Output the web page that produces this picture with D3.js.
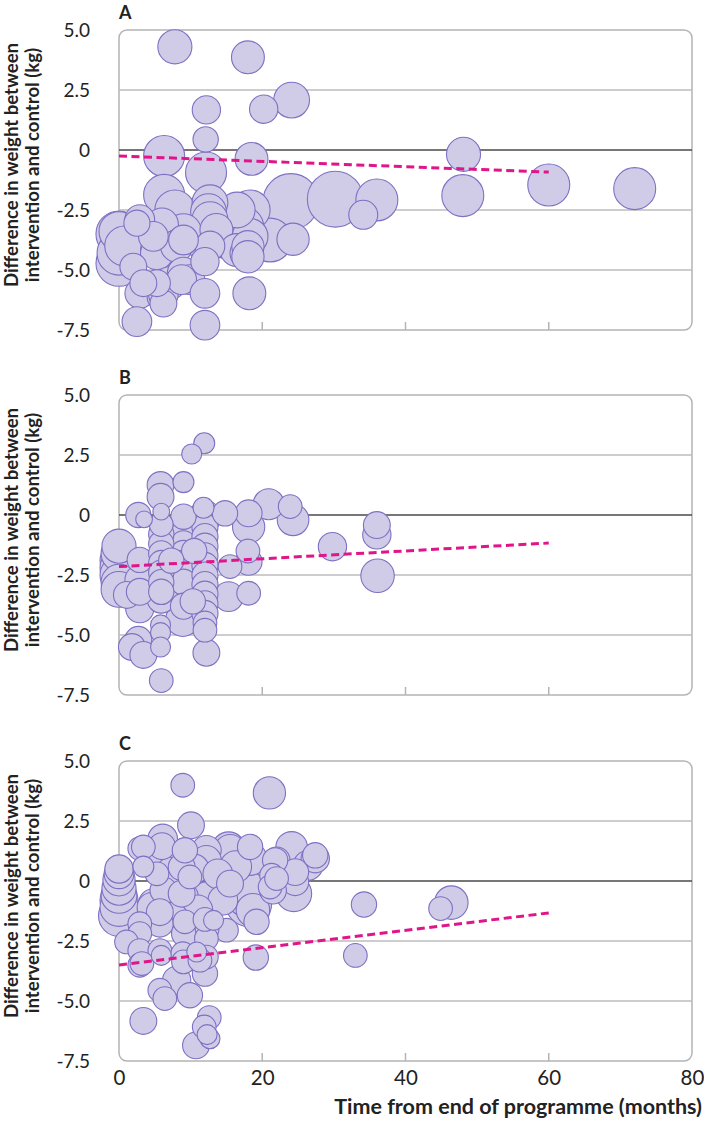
<!DOCTYPE html>
<html>
<head>
<meta charset="utf-8">
<script src="https://cdn.jsdelivr.net/npm/d3@7"></script>
<style>
  html, body { margin: 0; padding: 0; background: #fff; }
  svg { display: block; }
</style>
</head>
<body>
<svg id="chart" width="704" height="1121"></svg>
<script>
// ---- Data: [months after programme end, difference in weight (kg), study weight] ----
const panelLetters = ["A", "B", "C"];

const panelA = [
  [7.8, 4.3, 29], [18.0, 3.86, 27], [24.1, 2.08, 32], [20.2, 1.7, 20], [12.2, 1.67, 20],
  [12.1, 0.44, 16], [6.3, -0.25, 42], [18.5, -0.37, 27], [12.15, -0.94, 42], [6.3, -1.87, 42],
  [48.1, -0.18, 29], [48.0, -1.9, 44], [60.0, -1.46, 44], [72.0, -1.61, 44], [36.0, -2.08, 44],
  [34.1, -2.7, 21], [24.0, -2.15, 78], [30.2, -2.05, 78], [24.3, -3.72, 26], [18.3, -2.5, 40],
  [21.1, -3.75, 48], [17.4, -3.2, 40], [18.3, -3.6, 32], [18.0, -4.03, 26], [18.0, -4.45, 26],
  [18.2, -5.97, 27], [15.7, -3.47, 71], [16.5, -2.5, 32], [12.7, -2.2, 32], [12.5, -2.57, 32],
  [12.7, -2.9, 32], [11.3, -2.78, 40], [7.8, -2.5, 40], [8.5, -3.47, 46], [0, -3.4, 40],
  [0, -3.5, 53], [0.8, -4.0, 40], [0, -4.3, 48], [0, -4.72, 53], [2.9, -2.9, 22],
  [2.5, -3.05, 17], [6.0, -3.1, 27], [9.0, -3.4, 32], [8.05, -4.0, 26], [5.5, -4.2, 32],
  [4.8, -3.6, 22], [5.3, -4.3, 27], [12.0, -4.17, 22], [12.0, -4.65, 20], [12.7, -4.0, 22],
  [13.6, -3.33, 27], [16.4, -4.17, 27], [17.8, -3.68, 40], [17.8, -4.3, 27], [2.9, -5.97, 22],
  [6.0, -6.1, 22], [6.2, -6.4, 18], [6.2, -6.0, 22], [9.0, -5.14, 26], [9.9, -5.4, 22],
  [8.75, -5.4, 22], [12.0, -5.97, 22], [2.5, -7.15, 22], [12.0, -7.3, 22], [7.1, -5.55, 27],
  [5.3, -5.55, 18], [2.0, -4.86, 18], [3.4, -5.55, 18], [9.0, -3.75, 22]
];

const panelB = [
  [11.9, 2.99, 11], [10.15, 2.54, 10], [9.0, 1.37, 11], [5.8, 1.25, 18], [5.8, 0.76, 18],
  [5.9, 0.14, 7], [2.7, 0.0, 16], [3.5, -0.18, 7], [9.0, -0.07, 16], [12.0, -0.07, 26],
  [14.8, 0.07, 16], [11.8, 0.3, 11], [18.1, -0.5, 26], [18.1, 0.07, 18], [20.9, 0.45, 24],
  [24.3, -0.2, 25], [23.9, 0.35, 14], [29.8, -1.32, 20], [36.0, -0.42, 18], [36.0, -0.83, 20],
  [36.1, -2.53, 28],
  [0, -1.3, 29], [0, -1.6, 32], [0, -1.9, 36], [0, -2.2, 36], [0, -2.5, 36], [0, -2.8, 32],
  [0, -3.1, 32], [0.5, -2.0, 40],
  [2.9, -1.87, 16], [2.9, -2.7, 22], [1.1, -3.33, 18], [2.9, -3.9, 20], [2.9, -3.2, 18],
  [5.9, -0.4, 14], [5.9, -0.8, 16], [5.9, -1.2, 16], [5.9, -1.6, 16], [5.9, -2.0, 16],
  [5.9, -2.4, 16], [5.9, -2.8, 16], [5.9, -3.2, 16], [5.9, -3.5, 20],
  [9, -0.3, 17], [9, -0.8, 17], [9, -1.2, 17], [9, -1.6, 17], [9, -2.0, 17], [9, -2.4, 17],
  [9, -2.8, 17], [9, -3.3, 20], [9, -3.8, 17], [8.9, -4.35, 29],
  [12, -0.5, 17], [12, -0.9, 17], [12, -1.3, 17], [12, -1.7, 17], [12, -2.1, 17], [12, -2.5, 17],
  [12, -2.9, 17], [12, -3.3, 17], [12, -3.7, 17], [12, -4.1, 17], [12, -4.5, 14], [12, -4.8, 14],
  [12.2, -5.74, 18],
  [5.8, -4.58, 10], [5.8, -4.9, 10], [5.8, -5.5, 10],
  [2.7, -5.2, 18], [1.8, -5.5, 18], [3.4, -5.83, 18], [2.4, -5.35, 19], [5.9, -6.9, 14],
  [15.3, -3.4, 22], [18.1, -3.26, 14], [15.5, -2.15, 14], [18.1, -1.95, 18], [18.0, -1.5, 14],
  [10.3, -2.6, 18], [10.5, -1.5, 16], [10.3, -3.6, 16], [7.3, -3.0, 18], [7.3, -1.9, 16]
];

const panelC = [
  [8.9, 3.99, 14], [21.0, 3.67, 26], [10.05, 2.32, 18], [2.9, 1.35, 14], [6.1, 1.75, 22],
  [5.8, 1.14, 22], [6.0, 1.45, 18], [9.0, 1.0, 25], [9.2, 1.28, 16], [12.2, 1.28, 22],
  [12.2, 0.86, 22], [15.3, 1.35, 28], [15.5, 1.28, 25], [18.3, 0.93, 28], [18.3, 1.42, 16],
  [22.0, 0.86, 18], [21.8, 0.86, 16], [24.1, 1.4, 25], [27.4, 0.93, 20], [27.4, 1.07, 16],
  [26.4, 0.65, 22],
  [0, 0.5, 20], [0, 0.3, 22], [0, 0.05, 26], [0, -0.3, 29], [0, -0.6, 32], [0, -0.8, 36],
  [0, -1.1, 36], [0, -1.45, 42],
  [3.4, 0.6, 11], [5.3, 0.3, 14], [4.8, -0.94, 22], [6.2, -0.39, 18], [8.75, 0.58, 18],
  [8.75, -0.53, 18], [9.9, 0.17, 14], [12.2, -0.66, 22], [15.5, -0.11, 18], [17.8, -0.66, 40],
  [18.1, -0.94, 53], [18.1, -0.39, 34], [18.7, -1.22, 28], [19.2, -1.7, 16], [24.4, -0.53, 32],
  [24.6, -0.05, 18], [24.6, 0.37, 18], [21.3, 0.24, 14], [21.1, -0.25, 14], [22.0, 0.1, 14],
  [21.5, -0.4, 18], [15.0, -2.05, 14], [13.2, -1.64, 10], [12.3, -2.0, 14], [12.2, -2.4, 14],
  [9.2, -2.19, 18], [9.2, -1.7, 14], [5.7, -1.78, 18], [5.7, -1.3, 18], [4.6, -1.1, 22],
  [2.9, -1.78, 14], [2.9, -2.19, 14], [1.05, -2.54, 14], [2.9, -2.9, 14], [2.9, -3.51, 14],
  [5.7, -2.9, 14], [5.9, -3.1, 10], [8.9, -3.03, 14], [10.85, -2.96, 10], [12.2, -3.17, 14],
  [12.0, -3.86, 16], [19.1, -3.19, 16], [8.05, -4.14, 20], [5.7, -4.55, 14], [6.4, -4.9, 14],
  [9.9, -4.76, 16], [3.4, -5.83, 18], [12.6, -5.69, 14], [11.9, -6.08, 14], [12.7, -6.57, 10],
  [12.3, -6.4, 10], [10.75, -6.85, 18], [34.2, -0.98, 16], [33.0, -3.1, 14], [44.9, -1.15, 14],
  [46.4, -0.9, 28], [12.0, -1.6, 14], [9.0, -3.37, 14], [11.3, -3.3, 14], [3.2, -3.44, 14],
  [3.4, 1.42, 14], [9.0, -0.66, 22], [7.2, 0.4, 20], [10.5, 0.5, 22], [13.8, 0.3, 22],
  [14.5, -0.8, 22], [11.0, -1.2, 22], [7.5, -1.5, 22], [16.3, 0.6, 25]
];

// meta-regression lines: [month, kg] at start and end
const trendA = [[0, -0.25], [60, -0.92]];
const trendB = [[0, -2.15], [60, -1.17]];
const trendC = [[0, -3.5], [60, -1.33]];

const yTicks = [5, 2.5, 0, -2.5, -5, -7.5];
const yTickLabels = ["5.0", "2.5", "0", "-2.5", "-5.0", "-7.5"];
const xTicks = [0, 20, 40, 60, 80];
const xTickLabels = ["0", "20", "40", "60", "80"];
const yTitle = ["Difference in weight between", "intervention and control (kg)"];
const xTitle = "Time from end of programme (months)";

// ---- Layout ----
const svg = d3.select("#chart");
const FONT = "Lato, 'Noto Sans', sans-serif";
const left = 119, right = 692, plotH = 300;
const tops = [30, 395, 761];
const datasets = [panelA, panelB, panelC];
const trends = [trendA, trendB, trendC];

const x = d3.scaleLinear().domain([0, 80]).range([left, right]);
const r = d3.scaleSqrt().domain([0, 80]).range([0, 28.3]);

datasets.forEach((data, i) => {
  const top = tops[i];
  const y = d3.scaleLinear().domain([-7.5, 5]).range([top + plotH, top]);
  const g = svg.append("g");

  // frame
  g.append("rect")
    .attr("x", left).attr("y", top)
    .attr("width", right - left).attr("height", plotH)
    .attr("rx", 8).attr("ry", 8)
    .attr("fill", "none").attr("stroke", "#b4b4b4").attr("stroke-width", 1.5);

  // gridlines
  g.selectAll("line.grid")
    .data(yTicks.filter(t => t !== 0 && t !== 5 && t !== -7.5))
    .join("line")
    .attr("x1", left).attr("x2", right)
    .attr("y1", d => y(d)).attr("y2", d => y(d))
    .attr("stroke", "#bcbcbc").attr("stroke-width", 1.3);

  g.append("line")
    .attr("x1", left).attr("x2", right)
    .attr("y1", y(0)).attr("y2", y(0))
    .attr("stroke", "#4a4a4a").attr("stroke-width", 1.5);

  // bottom inward ticks
  g.selectAll("line.xt")
    .data(xTicks.filter(t => t > 0 && t < 80))
    .join("line")
    .attr("x1", d => x(d)).attr("x2", d => x(d))
    .attr("y1", top + plotH).attr("y2", top + plotH - 8)
    .attr("stroke", "#b4b4b4").attr("stroke-width", 1.5);

  // y axis labels
  const yAxis = d3.axisLeft(y)
    .tickValues(yTicks)
    .tickSize(0).tickPadding(29)
    .tickFormat((d, k) => yTickLabels[k]);
  const ya = g.append("g").attr("transform", `translate(${left},0)`).call(yAxis);
  ya.select(".domain").remove();
  ya.selectAll("text")
    .attr("font-family", FONT).attr("font-size", 19).attr("fill", "#222");

  // y title
  const cy = top + plotH / 2 - 15;
  const t = g.append("text")
    .attr("transform", `translate(0,${cy}) rotate(-90)`)
    .attr("text-anchor", "middle")
    .attr("font-family", FONT).attr("font-weight", "bold")
    .attr("font-size", 18.6).attr("fill", "#222");
  t.append("tspan").attr("x", 0).attr("y", 18).text(yTitle[0]);
  t.append("tspan").attr("x", 0).attr("y", 38.5).text(yTitle[1]);

  // panel letter
  g.append("text")
    .attr("x", left).attr("y", top - 11)
    .attr("font-family", FONT).attr("font-weight", "bold")
    .attr("font-size", 18).attr("fill", "#222")
    .text(panelLetters[i]);

  // bubbles
  const sorted = data.slice().sort((a, b) => b[2] - a[2]);
  g.append("g").selectAll("circle")
    .data(sorted)
    .join("circle")
    .attr("cx", d => x(d[0]))
    .attr("cy", d => y(d[1]))
    .attr("r", d => r(d[2]))
    .attr("fill", "#d0cce7")
    .attr("stroke", "#7d71c3")
    .attr("stroke-width", 1.1);

  // trend line
  g.append("path")
    .datum(trends[i])
    .attr("d", d3.line().x(d => x(d[0])).y(d => y(d[1])))
    .attr("fill", "none")
    .attr("stroke", "#e0158a")
    .attr("stroke-width", 3)
    .attr("stroke-dasharray", "8,4.5");

  // x axis labels on the last panel
  if (i === datasets.length - 1) {
    const xAxis = d3.axisBottom(x)
      .tickValues(xTicks).tickSize(0).tickPadding(9)
      .tickFormat((d, k) => xTickLabels[k]);
    const xa = g.append("g").attr("transform", `translate(0,${top + plotH})`).call(xAxis);
    xa.select(".domain").remove();
    xa.selectAll("text")
      .attr("font-family", FONT).attr("font-size", 20.5).attr("fill", "#222");

    g.append("text")
      .attr("x", 702).attr("y", 1114)
      .attr("text-anchor", "end")
      .attr("font-family", FONT).attr("font-weight", "bold")
      .attr("font-size", 21.5).attr("fill", "#222")
      .text(xTitle);
  }
});
</script>
</body>
</html>
